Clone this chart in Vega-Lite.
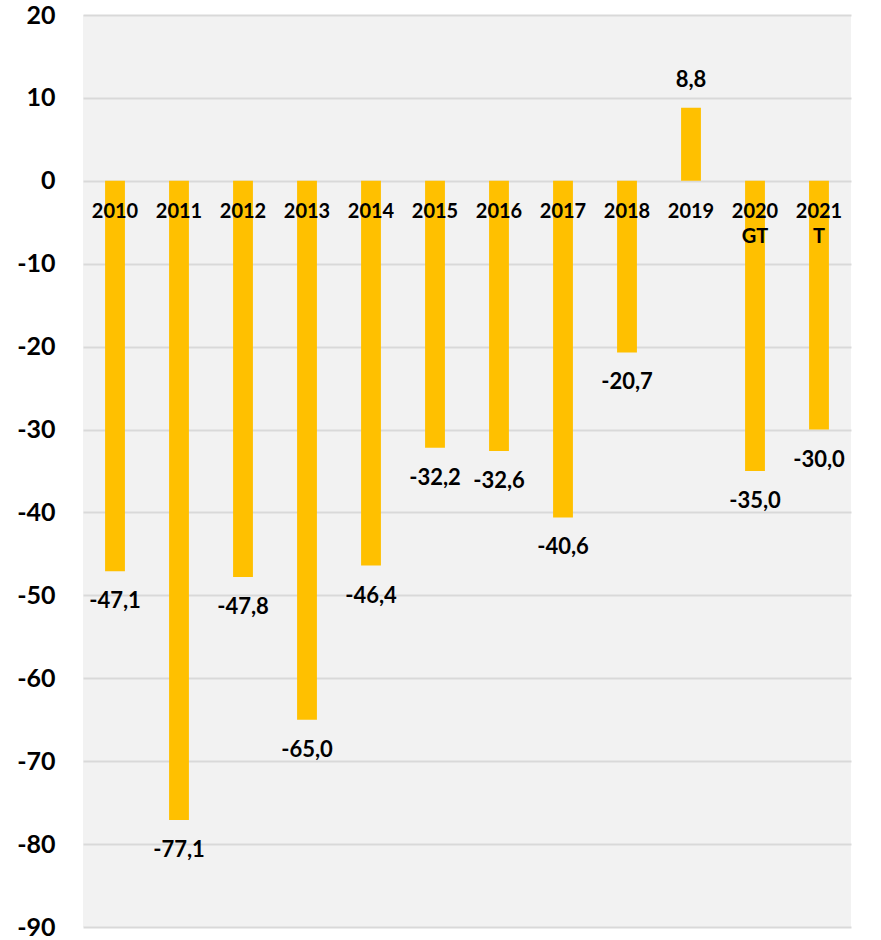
{
  "$schema": "https://vega.github.io/schema/vega-lite/v6.json",
  "width": 768,
  "height": 912,
  "autosize": "none",
  "padding": {"left": 83, "top": 15, "right": 30, "bottom": 13},
  "background": "white",
  "config": {
    "view": {"fill": "#f2f2f2", "stroke": null},
    "font": "Lato"
  },
  "data": {
    "values": [
      {"year": "2010", "value": -47.1, "label": "-47,1"},
      {"year": "2011", "value": -77.1, "label": "-77,1"},
      {"year": "2012", "value": -47.8, "label": "-47,8"},
      {"year": "2013", "value": -65.0, "label": "-65,0"},
      {"year": "2014", "value": -46.4, "label": "-46,4"},
      {"year": "2015", "value": -32.2, "label": "-32,2"},
      {"year": "2016", "value": -32.6, "label": "-32,6"},
      {"year": "2017", "value": -40.6, "label": "-40,6"},
      {"year": "2018", "value": -20.7, "label": "-20,7"},
      {"year": "2019", "value": 8.8, "label": "8,8"},
      {"year": "2020\nGT", "value": -35.0, "label": "-35,0"},
      {"year": "2021\nT", "value": -30.0, "label": "-30,0"}
    ]
  },
  "encoding": {
    "x": {
      "field": "year", "type": "nominal", "sort": null,
      "scale": {"paddingInner": 0.69, "paddingOuter": 0.345},
      "axis": null
    },
    "y": {
      "field": "value", "type": "quantitative",
      "scale": {"domain": [-90, 20], "nice": false, "zero": false},
      "axis": {
        "title": null, "values": [20, 10, 0, -10, -20, -30, -40, -50, -60, -70, -80, -90],
        "labelExpr": "'' + datum.value",
        "ticks": false, "domain": false,
        "gridColor": "#d9d9d9", "gridWidth": 2,
        "labelFont": "Lato", "labelFontSize": 25, "labelFontWeight": "bold",
        "labelColor": "black", "labelPadding": 28
      }
    }
  },
  "layer": [
    {"mark": {"type": "bar", "color": "#ffc000"}},
    {
      "transform": [{"filter": "datum.value < 0"}],
      "mark": {"type": "text", "baseline": "middle", "dy": 30, "fontSize": 22, "fontWeight": "bold", "color": "black"},
      "encoding": {"text": {"field": "label"}}
    },
    {
      "transform": [{"filter": "datum.value >= 0"}],
      "mark": {"type": "text", "baseline": "middle", "dy": -28, "fontSize": 22, "fontWeight": "bold", "color": "black"},
      "encoding": {"text": {"field": "label"}}
    },
    {
      "mark": {"type": "text", "baseline": "top", "dy": 21, "fontSize": 20, "fontWeight": "bold", "color": "black", "lineBreak": "\n", "lineHeight": 25},
      "encoding": {"text": {"field": "year"}, "y": {"datum": 0}}
    }
  ]
}
